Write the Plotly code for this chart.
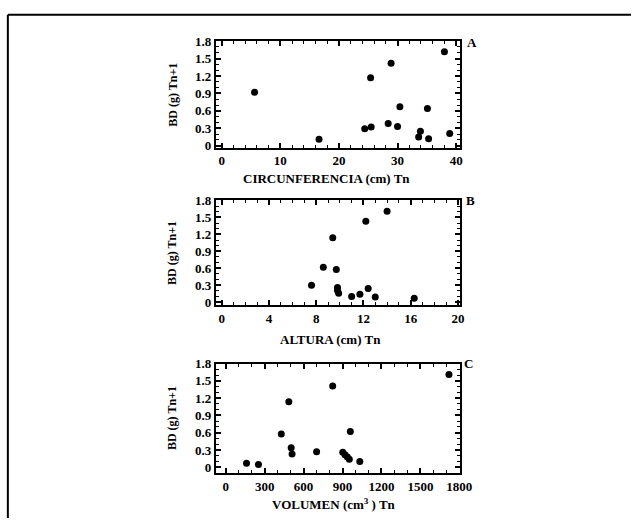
import plotly.graph_objects as go

# ---- Data ----
circ_x = [5.6, 16.6, 24.4, 25.5, 25.4, 28.9, 28.4, 30.0, 30.4, 33.6, 33.9, 35.1, 35.3, 38.0, 38.9]
circ_y = [0.92, 0.11, 0.29, 0.32, 1.17, 1.42, 0.38, 0.33, 0.67, 0.15, 0.25, 0.64, 0.12, 1.62, 0.21]

alt_x = [7.6, 8.6, 9.4, 9.7, 9.8, 9.8, 9.9, 11.0, 11.7, 12.2, 12.4, 13.0, 14.0, 16.3]
alt_y = [0.30, 0.62, 1.14, 0.58, 0.26, 0.21, 0.16, 0.10, 0.14, 1.43, 0.24, 0.09, 1.61, 0.07]

vol_x = [160, 252, 428, 486, 504, 511, 700, 824, 902, 919, 937, 952, 960, 1033, 1720]
vol_y = [0.07, 0.05, 0.58, 1.14, 0.34, 0.23, 0.27, 1.41, 0.26, 0.22, 0.18, 0.14, 0.62, 0.10, 1.61]

x_titles = ["CIRCUNFERENCIA (cm) Tn", "ALTURA (cm) Tn", "VOLUMEN (cm<sup>3</sup> ) Tn"]
y_title = "BD (g) Tn+1"
panel_letters = ["A", "B", "C"]

W, H = 643, 523
FONT = "Liberation Serif"

def px(x):
    return x / W

def py(y):
    return 1 - y / H

fig = go.Figure()

panels = [
    # (xdata, ydata, xrange, yrange, xdtick, xminor, top, bottom)
    (circ_x, circ_y, [-1.0, 40.7], [-0.035, 1.8], 10, 2, 35, 144),
    (alt_x, alt_y, [-0.5, 20.2], [-0.05, 1.8], 4, 1, 198, 305),
    (vol_x, vol_y, [-76, 1807], [-0.1, 1.8], 300, 100, 365, 477),
]
left, right = 220, 469

for i, (xd, yd, xr, yr, xdt, xmn, top, bot) in enumerate(panels):
    n = "" if i == 0 else str(i + 1)
    fig.add_trace(go.Scatter(
        x=xd, y=yd, mode="markers",
        marker=dict(symbol="circle", size=7, color="black"),
        xaxis="x" + n, yaxis="y" + n, showlegend=False,
    ))
    common = dict(
        showline=True, linecolor="black", linewidth=2, mirror="allticks",
        ticks="inside", ticklen=5, tickwidth=1.5, tickcolor="black",
        showgrid=False, zeroline=False,
        tickfont=dict(family=FONT, size=13, color="black", weight="bold"),
    )
    fig.layout["xaxis" + n] = dict(
        domain=[px(left), px(right)], range=xr, anchor="y" + n,
        tick0=0, dtick=xdt,
        minor=dict(ticks="inside", dtick=xmn, ticklen=3, tickwidth=1.2, tickcolor="black"),
        **common,
    )
    fig.layout["yaxis" + n] = dict(
        domain=[py(bot), py(top)], range=yr, anchor="x" + n,
        tickvals=[0, 0.3, 0.6, 0.9, 1.2, 1.5, 1.8],
        ticktext=["0", "0.3", "0.6", "0.9", "1.2", "1.5", "1.8"],
        minor=dict(ticks="inside", dtick=0.1, tick0=0, ticklen=3, tickwidth=1.2, tickcolor="black"),
        **common,
    )

ann = []
title_pos = [(333, 176), (337, 340), (340, 509)]
for (tx, ty), t in zip(title_pos, x_titles):
    ann.append(dict(x=px(tx), y=py(ty), xref="paper", yref="paper", text=t, showarrow=False,
                    font=dict(family=FONT, size=13, color="black", weight="bold"),
                    xanchor="center", yanchor="middle"))
for yc in [90, 252, 421]:
    ann.append(dict(x=px(176), y=py(yc), xref="paper", yref="paper", text=y_title, showarrow=False,
                    textangle=-90, font=dict(family=FONT, size=12, color="black", weight="bold"),
                    xanchor="center", yanchor="middle"))
for (lx, ly), t in zip([(481, 36), (479, 198), (477, 365)], panel_letters):
    ann.append(dict(x=px(lx), y=py(ly), xref="paper", yref="paper", text=t, showarrow=False,
                    font=dict(family=FONT, size=13, color="black", weight="bold"),
                    xanchor="center", yanchor="middle"))

shapes = [
    dict(type="line", xref="paper", yref="paper", x0=px(8), x1=px(8), y0=py(8), y1=0,
         line=dict(color="black", width=2)),
    dict(type="line", xref="paper", yref="paper", x0=px(8), x1=1, y0=py(8), y1=py(8),
         line=dict(color="black", width=2)),
]

fig.update_layout(
    width=W, height=H,
    margin=dict(l=0, r=0, t=0, b=0),
    paper_bgcolor="white", plot_bgcolor="white",
    annotations=ann, shapes=shapes,
)

fig.write_html(
    "out.html",
    config={"displayModeBar": False},
    post_script="document.body.style.margin='0';document.body.style.overflow='hidden';",
)
